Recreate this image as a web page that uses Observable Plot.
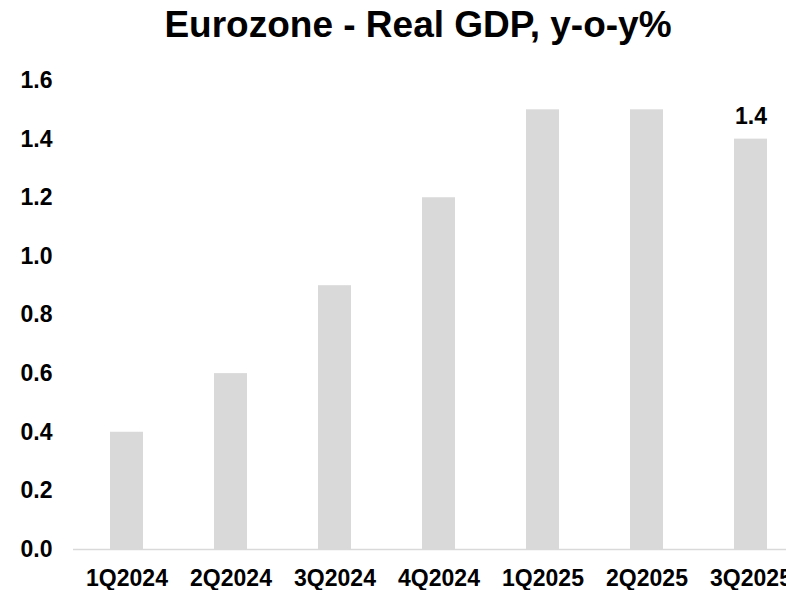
<!DOCTYPE html>
<html>
<head>
<meta charset="utf-8">
<script src="https://cdn.jsdelivr.net/npm/d3@7"></script>
<script src="https://cdn.jsdelivr.net/npm/@observablehq/plot@0.6"></script>
<style>
  html, body { margin: 0; padding: 0; background: #fff; overflow: hidden; }
  #title {
    width: 836px; height: 56px; padding-top: 4px; line-height: 58px; text-align: center;
    font: bold 37px "Liberation Sans", Arial, sans-serif; color: #000;
    white-space: nowrap;
  }
  #chart svg { display: block; overflow: visible; max-width: none !important; }
</style>
</head>
<body>
<div id="title">Eurozone - Real GDP, y-o-y%</div>
<div id="chart"></div>
<script>
// Quarterly real GDP growth, year over year (%)
const quarters = ["1Q2024", "2Q2024", "3Q2024", "4Q2024", "1Q2025", "2Q2025", "3Q2025"];
const gdp = [0.4, 0.6, 0.9, 1.2, 1.5, 1.5, 1.4];
const yTicks = [0, 0.2, 0.4, 0.6, 0.8, 1.0, 1.2, 1.4, 1.6];

const data = quarters.map((q, i) => ({quarter: q, value: gdp[i]}));
const latest = data.slice(-1);

const chart = Plot.plot({
  width: 804,
  height: 530,
  marginLeft: 73,
  marginRight: 0,
  marginTop: 20,
  marginBottom: 41,
  style: {
    fontFamily: "'Liberation Sans', Arial, sans-serif",
    fontSize: "23px",
    fontWeight: "bold",
    color: "#000",
    background: "#fff"
  },
  x: {domain: quarters, paddingInner: 0.684, paddingOuter: 0.342, label: null, tickSize: 0, tickPadding: 20},
  y: {domain: [0, 1.6], ticks: yTicks, tickFormat: d => d.toFixed(1), label: null, tickSize: 0, tickPadding: 21},
  marks: [
    Plot.barY(data, {x: "quarter", y: "value", fill: "#d9d9d9"}),
    Plot.ruleY([0], {stroke: "#d9d9d9", strokeWidth: 1.5}),
    Plot.text(latest, {x: "quarter", y: "value", text: d => d.value.toFixed(1), dy: -23, fill: "#000", fontWeight: "bold", fontSize: 23})
  ]
});
document.getElementById("chart").appendChild(chart);
</script>
</body>
</html>
